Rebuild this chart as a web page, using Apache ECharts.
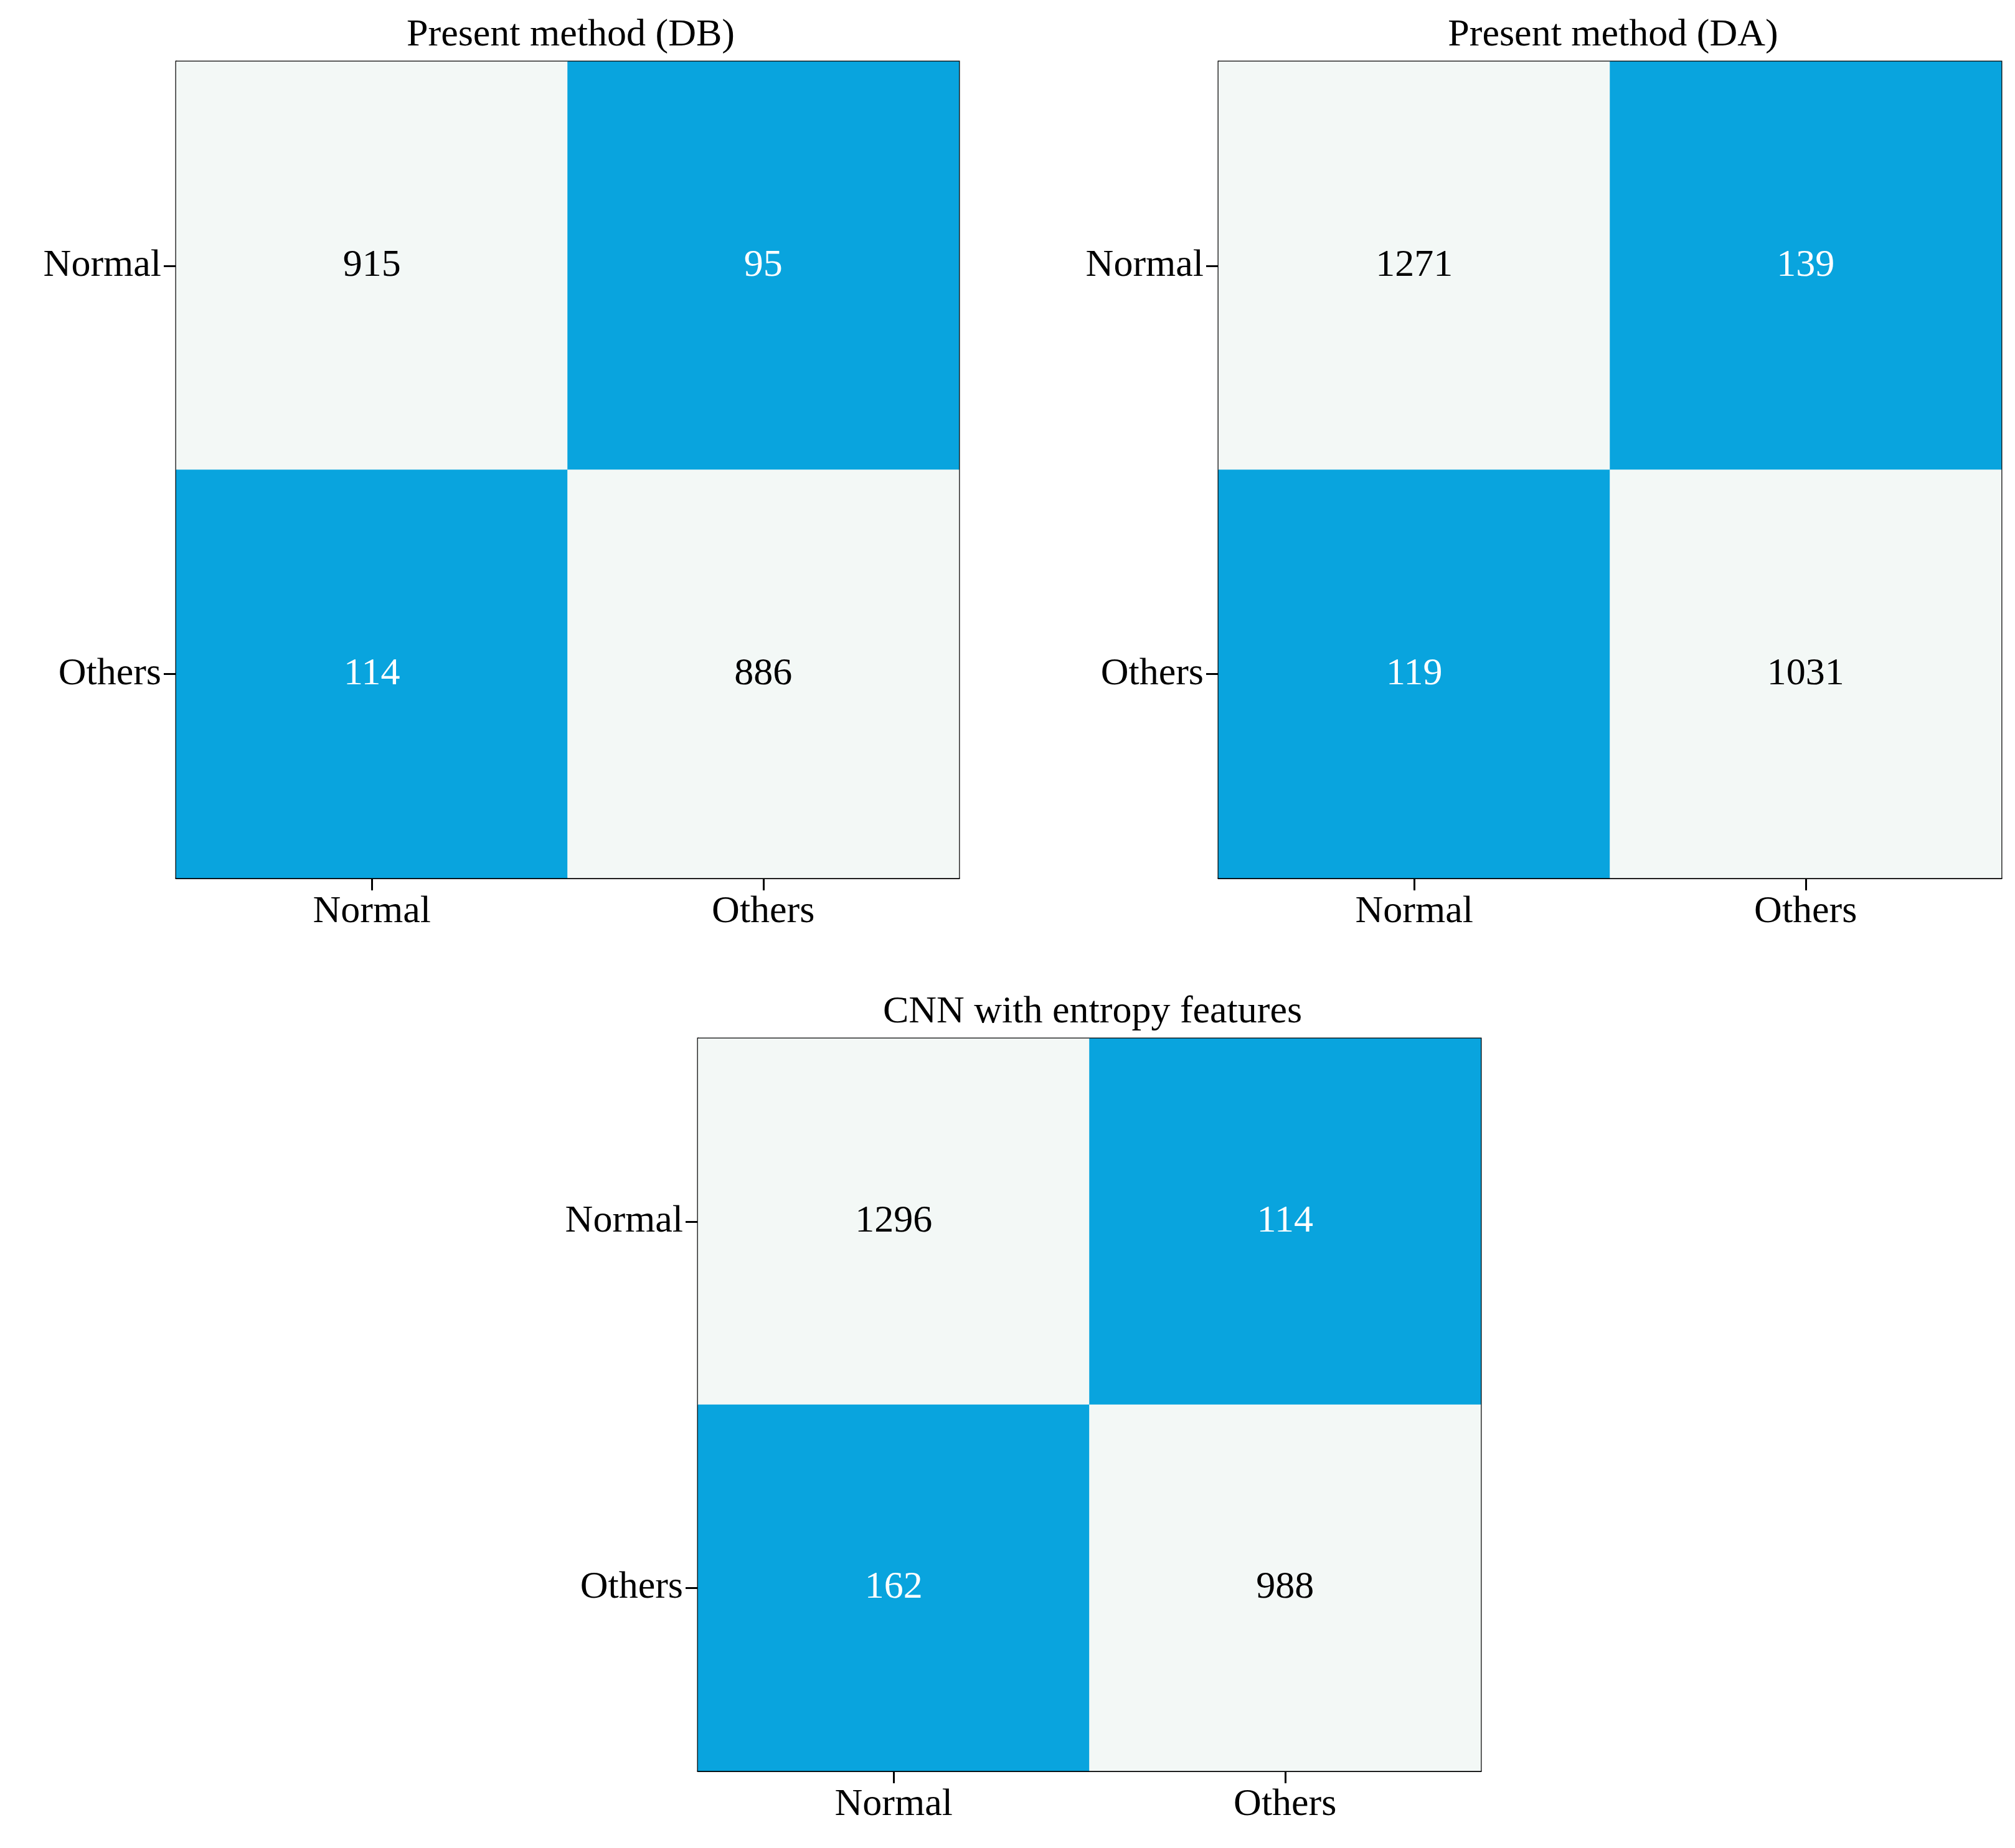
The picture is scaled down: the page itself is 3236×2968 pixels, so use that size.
<!DOCTYPE html>
<html><head><meta charset="utf-8">
<script src="https://cdn.jsdelivr.net/npm/echarts@6/dist/echarts.min.js"></script>
<style>html,body{margin:0;background:#fff}#c{width:3236px;height:2968px}</style>
</head><body><div id="c"></div>
<script>
const categories = ['Normal','Others'];
const titles = ['Present method (DB)','Present method (DA)','CNN with entropy features'];
const matDB = [[915,95],[114,886]];
const matDA = [[1271,139],[119,1031]];
const matCNN = [[1296,114],[162,988]];
const mats = [matDB, matDA, matCNN];
const grids = [
  {left:283, top:99, width:1257, height:1311},
  {left:1957, top:99, width:1257, height:1311},
  {left:1121, top:1668, width:1257, height:1176}
];
const font = 'Liberation Serif, Times New Roman, serif';
const light = '#f3f8f6', blue = '#09a4de';
const opt = {animation:false, title:[], grid:[], xAxis:[], yAxis:[], series:[]};
mats.forEach((m,i)=>{
  const g = grids[i];
  opt.grid.push(Object.assign({show:true, borderColor:'#000', borderWidth:3, backgroundColor:'transparent'}, g));
  opt.title.push({text:titles[i], left:g.left+g.width/2, top:g.top-78, textAlign:'center',
    textStyle:{fontFamily:font, fontWeight:'normal', fontSize:62, color:'#000'}});
  const axCommon = {type:'category', data:categories, gridIndex:i,
    axisLine:{show:true, lineStyle:{color:'#000', width:3}},
    axisTick:{show:true, alignWithLabel:true, length:20, lineStyle:{color:'#000', width:3}},
    axisLabel:{fontFamily:font, fontSize:62, color:'#000', margin:24},
    splitLine:{show:false}};
  opt.xAxis.push(Object.assign({}, axCommon));
  opt.yAxis.push(Object.assign({inverse:true}, axCommon));
  const data = [];
  for (let r=0;r<2;r++) for (let c=0;c<2;c++) {
    const diag = r===c;
    data.push({value:[c,r,m[r][c]], itemStyle:{color: diag?light:blue},
      label:{color: diag?'#000':'#fff'}});
  }
  opt.series.push({type:'heatmap', xAxisIndex:i, yAxisIndex:i, data,
    label:{show:true, fontFamily:font, fontSize:62, formatter:p=>p.value[2]},
    emphasis:{disabled:true}});
});
echarts.init(document.getElementById('c')).setOption(opt);
</script></body></html>
